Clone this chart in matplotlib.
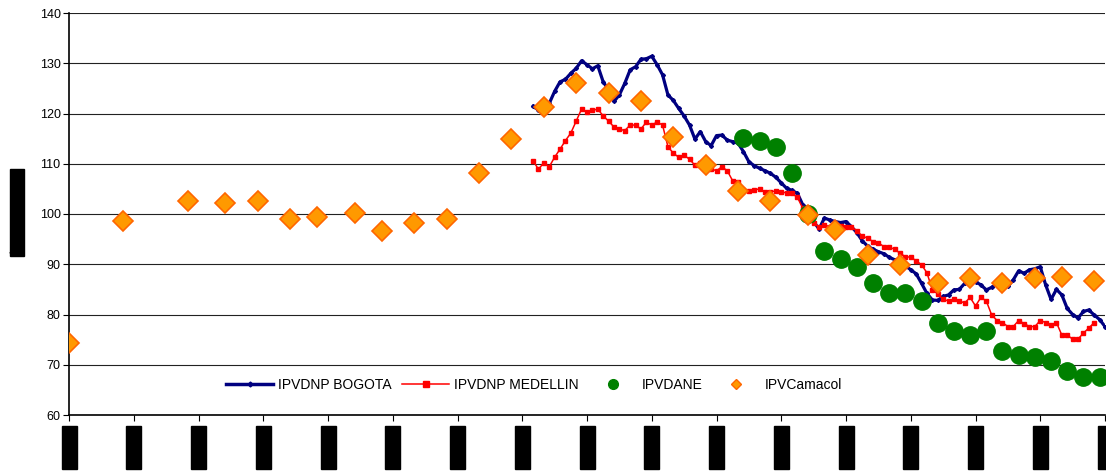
import numpy as np
import matplotlib.pyplot as plt
from matplotlib.lines import Line2D

plt.rcParams['font.family'] = ['Liberation Sans', 'DejaVu Sans']

# x axis: months counted from the first tick (one tick per year)
year_labels = ['Ene-87', 'Ene-88', 'Ene-89', 'Ene-90', 'Ene-91', 'Ene-92', 'Ene-93', 'Ene-94',
               'Ene-95', 'Ene-96', 'Ene-97', 'Ene-98', 'Ene-99', 'Ene-00', 'Ene-01', 'Ene-02', 'Ene-03']

# IPVDNP Bogota (monthly, starts at month 86)
bogota_start = 86
bogota = [121.4, 120.7, 121.0, 122.0, 124.4, 126.3, 126.8, 128.0, 129.0, 130.5,
          129.7, 128.9, 129.5, 126.3, 124.7, 122.4, 123.7, 126.0, 128.7, 129.3,
          130.8, 130.9, 131.4, 129.7, 127.7, 123.7, 122.6, 121.0, 119.5, 117.7,
          114.9, 116.4, 114.4, 113.6, 115.6, 115.7, 114.7, 114.4, 114.1, 112.4,
          110.4, 109.6, 109.1, 108.6, 108.1, 107.3, 106.2, 105.1, 104.7, 104.1,
          101.8, 100.5, 98.5, 97.0, 99.2, 98.8, 98.5, 98.3, 98.5, 97.5,
          96.3, 94.7, 93.6, 93.0, 92.5, 92.1, 91.4, 90.9, 90.5, 89.7,
          88.9, 88.1, 86.2, 84.2, 82.9, 82.8, 83.6, 83.9, 84.9, 85.0,
          86.2, 86.9, 86.5, 85.9, 84.9, 85.4, 86.1, 85.7, 85.6, 86.9,
          88.7, 88.2, 88.9, 89.1, 89.5, 85.9, 83.0, 85.0, 83.9, 81.2,
          80.0, 79.3, 80.6, 80.9, 79.9, 79.0, 77.6]

# IPVDNP Medellin (monthly, starts at month 86)
medellin_start = 86
medellin = [110.6, 108.9, 110.2, 109.4, 111.3, 112.9, 114.6, 116.1, 118.5, 120.9,
            120.2, 120.6, 120.9, 119.5, 118.5, 117.3, 116.9, 116.6, 117.7, 117.7,
            116.9, 118.3, 117.7, 118.3, 117.7, 113.4, 112.1, 111.3, 111.7, 110.9,
            109.7, 110.1, 109.4, 109.0, 108.6, 109.4, 108.6, 106.6, 106.4, 104.8,
            104.6, 104.8, 105.0, 104.4, 104.4, 104.6, 104.4, 104.2, 104.1, 103.3,
            101.1, 99.5, 98.2, 97.4, 97.8, 97.5, 97.4, 97.6, 97.5, 97.4,
            96.7, 95.6, 95.2, 94.5, 94.3, 93.5, 93.4, 93.0, 92.2, 91.5,
            91.4, 90.7, 89.9, 88.3, 84.9, 84.1, 83.0, 82.7, 83.0, 82.7,
            82.3, 83.4, 81.7, 83.4, 82.7, 79.9, 78.8, 78.4, 77.6, 77.6,
            78.8, 78.2, 77.6, 77.6, 78.8, 78.4, 77.9, 78.4, 75.9, 75.9,
            75.1, 75.1, 76.3, 77.3, 78.4]

# IPVDANE (quarterly)
dane_month = [125, 128, 131, 134, 137, 140, 143, 146, 149, 152, 155, 158,
              161, 164, 167, 170, 173, 176, 179, 182, 185, 188, 191]
dane = [115.2, 114.6, 113.3, 108.2, 100.0, 92.7, 91.0, 89.5, 86.2, 84.3, 84.3, 82.7,
        78.4, 76.8, 76.0, 76.8, 72.7, 72.0, 71.6, 70.8, 68.8, 67.6, 67.5]

# IPVCamacol (about every six months)
camacol_month = [0, 10, 22, 29, 35, 41, 46, 53, 58, 64, 70, 76, 82, 88, 94, 100,
                 106, 112, 118, 124, 130, 137, 142, 148, 154, 161, 167, 173, 179, 184, 190]
camacol = [74.3, 98.6, 102.6, 102.2, 102.6, 99.0, 99.4, 100.2, 96.6, 98.2, 99.0, 108.2,
           114.9, 121.3, 126.1, 124.1, 122.5, 115.3, 109.8, 104.6, 102.6, 99.8, 96.8,
           91.8, 89.8, 86.3, 87.2, 86.3, 87.2, 87.5, 86.7]

bog_x = (bogota_start + np.arange(len(bogota))) / 12
med_x = (medellin_start + np.arange(len(medellin))) / 12
dane_x = np.array(dane_month) / 12
cam_x = np.array(camacol_month) / 12

fig = plt.figure(figsize=(11.06, 4.75), dpi=100)
ax = fig.add_axes([69/1106, 1 - 415/475, 1036/1106, 402/475])

ax.plot(bog_x, bogota, color='#000080', lw=2.3, marker='D', ms=2, zorder=3)
ax.plot(med_x, medellin, color='#FF0000', lw=1.1, marker='s', ms=3.3, zorder=3)
ax.plot(dane_x, dane, ls='none', marker='o', ms=12.5, color='#008000', zorder=4)
ax.plot(cam_x, camacol, ls='none', marker='D', ms=10.3, mfc='#FF9900', mec='#FF6600',
        mew=1.2, zorder=5)

ax.set_xlim(0, 16)
ax.set_ylim(60, 140)
ax.set_yticks(np.arange(60, 141, 10))
ax.set_xticks(np.arange(0, 17))
ax.set_xticklabels(year_labels, rotation=90, fontsize=9, color='black', va='top')
for lab in ax.get_xticklabels():
    lab.set_bbox(dict(facecolor='black', edgecolor='black', boxstyle='square,pad=0.12'))

ax.grid(axis='y', color='#222222', lw=0.8)
ax.set_axisbelow(True)
for s in ['top', 'right']:
    ax.spines[s].set_visible(False)
ax.spines['left'].set_linewidth(1.2)
ax.spines['bottom'].set_linewidth(1.2)
ax.tick_params(axis='y', length=4, width=0.8, labelsize=9, pad=2)
ax.tick_params(axis='x', length=4, width=0.8, pad=5)

fig.text(17/1106, 1 - 212.5/475, 'Índice 1998=100', rotation=90, ha='center', va='center',
         fontsize=8, color='black',
         bbox=dict(facecolor='black', edgecolor='black', boxstyle='square,pad=0.15'))

handles = [
    Line2D([], [], color='#000080', lw=2.5, marker='D', ms=2.5),
    Line2D([], [], color='#FF0000', lw=1.1, marker='s', ms=4),
    Line2D([], [], ls='none', marker='o', ms=7, color='#008000'),
    Line2D([], [], ls='none', marker='D', ms=5, mfc='#FF9900', mec='#FF6600'),
]
ax.legend(handles, ['IPVDNP BOGOTA', 'IPVDNP MEDELLIN', 'IPVDANE', 'IPVCamacol'],
          loc='center', bbox_to_anchor=(0.449, 0.075), ncol=4, frameon=False,
          fontsize=10, handlelength=3.4, handletextpad=0.35, columnspacing=0.75)

fig.savefig('out.png', dpi=100)
